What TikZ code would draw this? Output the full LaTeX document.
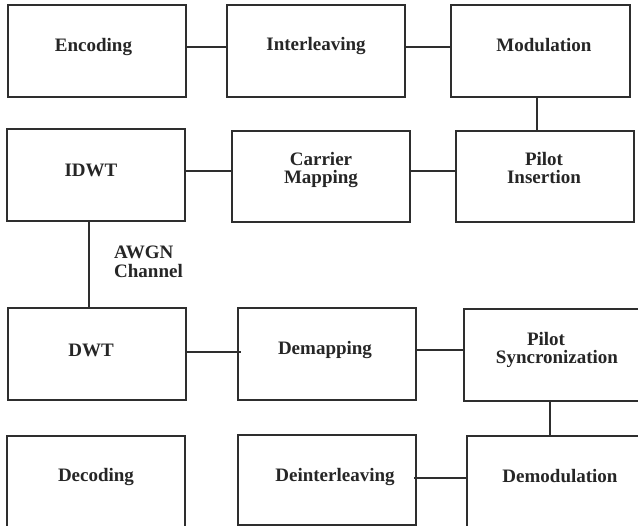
\documentclass[tikz,border=0pt]{standalone}
\usepackage{fontspec}
\setmainfont{Liberation Serif}
\definecolor{boxline}{HTML}{2E2E2E}
\definecolor{txtcol}{HTML}{262626}
\begin{document}
\begin{tikzpicture}[x=1pt,y=-1pt,
  blk/.style={draw=boxline, line width=1.5pt, inner sep=0pt, outer sep=0pt,
    minimum width=178pt, minimum height=92pt},
  lbl/.style={anchor=base, inner sep=0pt, text=txtcol,
    font=\fontsize{19}{18.5}\selectfont\bfseries},
  lbl2/.style={lbl, anchor=north, align=center},
  conn/.style={draw=boxline, line width=1.5pt}]
\fill[white] (0,0) rectangle (638,526);
\useasboundingbox (0,0) rectangle (638,526);
\clip (0,0) rectangle (638,526);
% boxes
\node[blk] (enc) at (97,51) {};
\node[blk] (int) at (316,51) {};
\node[blk, minimum width=179pt] (mod) at (540.5,51) {};
\node[blk] (idwt) at (96,175) {};
\node[blk, minimum height=91pt] (car) at (321,176.5) {};
\node[blk, minimum height=91pt] (pin) at (545,176.5) {};
\node[blk] (dwt) at (97,354) {};
\node[blk] (dem) at (327,354) {};
\node[blk] (psy) at (553,355) {};
\node[blk] (dec) at (96,482) {};
\node[blk, minimum height=90pt] (dint) at (327,480) {};
\node[blk] (dmod) at (556,482) {};
% texts
\node[lbl] (tenc) at (93.5,52) {Encoding};
\node[lbl] (tint) at (316,51) {Interleaving};
\node[lbl] (tmod) at (544,52) {Modulation};
\node[lbl] (tidwt) at (91,177) {IDWT};
\node[lbl2] (tcar) at (321,152) {Carrier\\Mapping};
\node[lbl2] (tpin) at (544,152) {Pilot\\Insertion};
\node[lbl2, anchor=north west, align=left] (tawgn) at (114,246) {AWGN\\Channel};
\node[lbl] (tdwt) at (91,357) {DWT};
\node[lbl] (tdem) at (325,355) {Demapping};
\node[lbl2] (tpsy) at (557,332) {Pilot\hspace*{22pt}\\Syncronization};
\node[lbl] (tdec) at (96,482) {Decoding};
\node[lbl] (tdint) at (335,482) {Deinterleaving};
\node[lbl] (tdmod) at (560,483) {Demodulation};
% connectors
\draw[conn] ([yshift=4pt]enc.east) -- ([yshift=4pt]enc.east -| int.west);
\draw[conn] ([yshift=4pt]int.east) -- ([yshift=4pt]int.east -| mod.west);
\draw[conn] ([xshift=-3.5pt]mod.south) -- ([xshift=-3.5pt]mod.south |- pin.north);
\draw[conn] ([yshift=4pt]idwt.east) -- ([yshift=4pt]idwt.east -| car.west);
\draw[conn] ([yshift=5.5pt]car.east) -- ([yshift=5.5pt]car.east -| pin.west);
\draw[conn] ([xshift=-7pt]idwt.south) -- ([xshift=-7pt]idwt.south |- dwt.north);
\draw[conn] ([yshift=2pt]dwt.east) -- ([yshift=2pt,xshift=3pt]dwt.east -| dem.west);
\draw[conn] ([yshift=4pt]dem.east) -- ([yshift=4pt]dem.east -| psy.west);
\draw[conn] ([xshift=-3pt]psy.south) -- ([xshift=-3pt]psy.south |- dmod.north);
\draw[conn] ([yshift=2pt,xshift=-2pt]dint.east) -- ([yshift=2pt]dint.east -| dmod.west);
\end{tikzpicture}
\end{document}
